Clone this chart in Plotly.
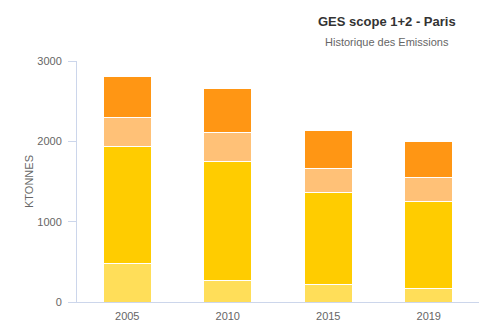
import plotly.graph_objects as go

years = ["2005", "2010", "2015", "2019"]
part_a = [476, 265, 215, 165]
part_b = [1457, 1478, 1151, 1090]
part_c = [365, 369, 299, 298]
part_d = [504, 550, 475, 451]

series = [
    (part_a, "#FFDE59"),
    (part_b, "#FFCC00"),
    (part_c, "#FFC177"),
    (part_d, "#FF9614"),
]

fig = go.Figure()
for values, color in series:
    fig.add_trace(go.Bar(
        x=years, y=values,
        marker=dict(color=color, line=dict(color="#FFFFFF", width=1)),
        showlegend=False,
        hoverinfo="y",
    ))

axis_col = "#CCD6EB"
fig.update_layout(
    barmode="stack",
    bargap=0.52,
    width=485, height=329,
    margin=dict(l=77, r=6, t=61, b=27),
    paper_bgcolor="white",
    plot_bgcolor="white",
    font=dict(family="Liberation Sans, Arial, sans-serif", color="#666666", size=11),
    xaxis=dict(
        showline=True, linecolor=axis_col, linewidth=1,
        ticks="", showgrid=False,
        ticklabelstandoff=4,
        tickfont=dict(size=11, color="#666666"),
    ),
    yaxis=dict(
        range=[0, 3000],
        tickvals=[0, 1000, 2000, 3000],
        showline=True, linecolor=axis_col, linewidth=1,
        ticks="outside", ticklen=8, tickcolor=axis_col,
        ticklabelstandoff=4,
        showgrid=False, zeroline=False,
        tickfont=dict(size=11, color="#666666"),
        title=dict(text="KTONNES", font=dict(size=11, color="#666666"), standoff=1),
    ),
    annotations=[
        dict(text="<b>GES scope 1+2 - Paris</b>", x=387, y=329 - 22,
             xref="paper", yref="paper", showarrow=False,
             font=dict(size=13, color="#333333")),
        dict(text="Historique des Emissions", x=387, y=329 - 42,
             xref="paper", yref="paper", showarrow=False,
             font=dict(size=11, color="#666666")),
    ],
)

# Position the title block in pixel terms relative to the plot area
plot_w = 485 - 77 - 6
plot_h = 329 - 61 - 27
for ann in fig.layout.annotations:
    px, py = ann.x, ann.y
    ann.x = (px - 77) / plot_w
    ann.y = (py - 27) / plot_h
    ann.xanchor = "center"
    ann.yanchor = "middle"

fig.write_html("out.html")
